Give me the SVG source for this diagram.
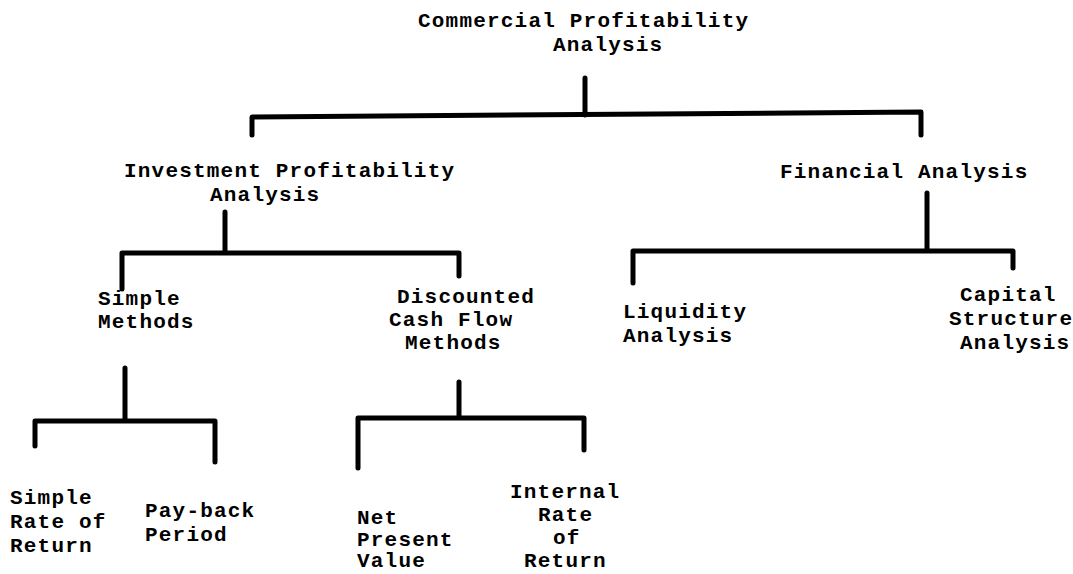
<svg xmlns="http://www.w3.org/2000/svg" width="1073" height="574" viewBox="0 0 1073 574">
<style>
.t{font-family:"Liberation Mono","DejaVu Sans Mono",monospace;font-weight:bold;font-size:21px;letter-spacing:1.2px;fill:#000}
.c{fill:none;stroke:#000;stroke-width:5;stroke-linejoin:round;stroke-linecap:round}
</style>
<rect width="1073" height="574" fill="#fff"/>
<g id="connectors">
<path class="c" d="M585,78 V115 M252,135 V117 L921,112 V135"/>
<path class="c" d="M225,212 V252 M122,289 V253 H459 V276"/>
<path class="c" d="M927,193 V250 M633,283 V251 H1013 V268"/>
<path class="c" d="M125,368 V420 M35,446 V421 H215 V462"/>
<path class="c" d="M459,382 V417 M358,468 V418 H584 V450"/>
</g>
<g id="n-commercial"><text class="t" x="418" y="27">Commercial Profitability</text><text class="t" x="553" y="51">Analysis</text></g>
<g id="n-investment"><text class="t" x="124" y="177">Investment Profitability</text><text class="t" x="210" y="201">Analysis</text></g>
<g id="n-financial"><text class="t" x="780" y="178">Financial Analysis</text></g>
<g id="n-simple-methods"><text class="t" x="98" y="305">Simple</text><text class="t" x="98" y="328">Methods</text></g>
<g id="n-dcf"><text class="t" x="397" y="303">Discounted</text><text class="t" x="389" y="326">Cash Flow</text><text class="t" x="405" y="349">Methods</text></g>
<g id="n-liquidity"><text class="t" x="623" y="318">Liquidity</text><text class="t" x="623" y="342">Analysis</text></g>
<g id="n-capital"><text class="t" x="960" y="301">Capital</text><text class="t" x="949" y="325">Structure</text><text class="t" x="960" y="349">Analysis</text></g>
<g id="n-srr"><text class="t" x="10" y="504">Simple</text><text class="t" x="10" y="528">Rate of</text><text class="t" x="10" y="552">Return</text></g>
<g id="n-payback"><text class="t" x="145" y="517">Pay-back</text><text class="t" x="145" y="541">Period</text></g>
<g id="n-npv"><text class="t" x="357" y="524">Net</text><text class="t" x="357" y="546">Present</text><text class="t" x="357" y="567">Value</text></g>
<g id="n-irr"><text class="t" x="510" y="498">Internal</text><text class="t" x="538" y="521">Rate</text><text class="t" x="553" y="544">of</text><text class="t" x="524" y="567">Return</text></g>
</svg>
